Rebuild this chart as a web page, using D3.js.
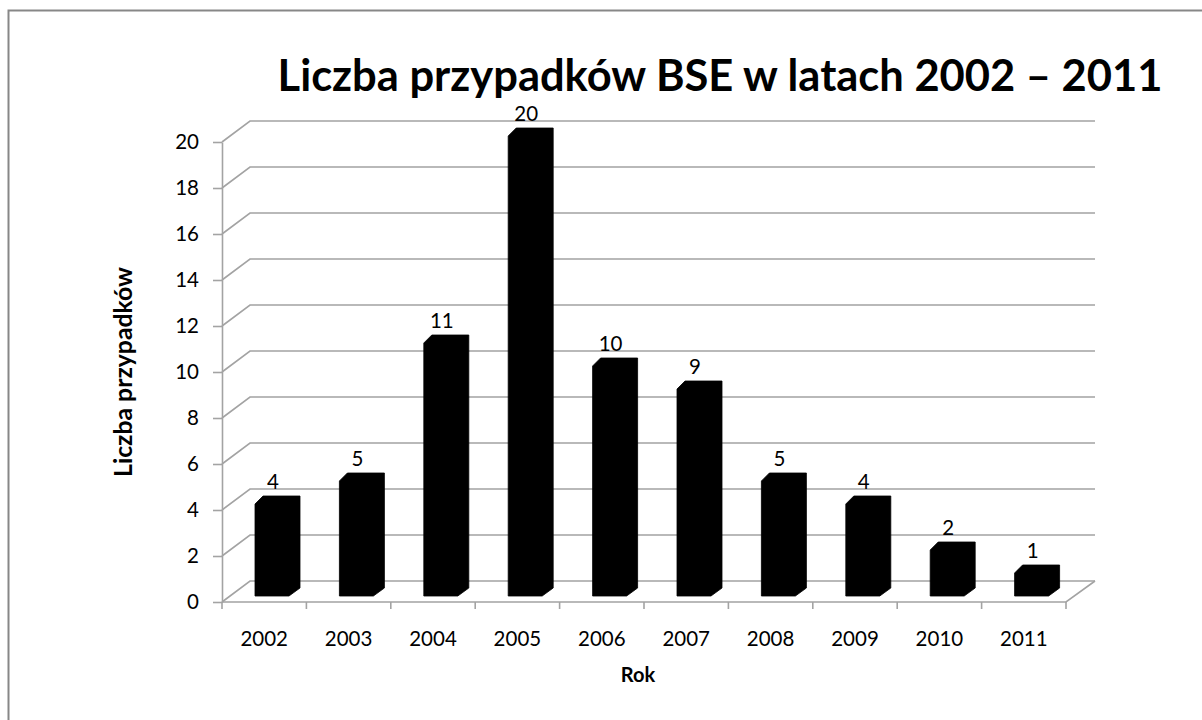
<!DOCTYPE html>
<html>
<head>
<meta charset="utf-8">
<script src="https://cdn.jsdelivr.net/npm/d3@7"></script>
<style>
  html, body { margin: 0; padding: 0; background: #fff; }
  svg { display: block; font-family: Lato, "Open Sans", sans-serif; }
</style>
</head>
<body>
<svg id="chart" width="1202" height="720"></svg>
<script>
const years = ["2002","2003","2004","2005","2006","2007","2008","2009","2010","2011"];
const cases = [4, 5, 11, 20, 10, 9, 5, 4, 2, 1];
const yTicks = [0, 2, 4, 6, 8, 10, 12, 14, 16, 18, 20];
const titleText = "Liczba przypadków BSE w latach 2002 – 2011";
const yTitle = "Liczba przypadków";
const xTitle = "Rok";

const svg = d3.select("#chart");
const gridColor = "#a3a3a3";
const labelSize = 20.5;

// chart border
svg.append("rect")
  .attr("x", 8.5).attr("y", 10.5).attr("width", 1220).attr("height", 730)
  .attr("fill", "none").attr("stroke", "#878787").attr("stroke-width", 2);

const x = d3.scaleBand().domain(years).range([222, 1066]).padding(0);
const y = d3.scaleLinear().domain([0, 20]).range([602, 142]);
const depthX = 28, depthY = 21;
const right = 1066;

// walls / gridlines (left side wall diagonals + back wall lines)
const grid = svg.append("g");
yTicks.forEach(t => {
  grid.append("path")
    .attr("d", `M222,${y(t)}L${222 + depthX},${y(t) - depthY}L${right + depthX + 1},${y(t) - depthY}`)
    .attr("fill", "none").attr("stroke", gridColor).attr("stroke-width", 1.6);
});
// floor front edge and right diagonal
grid.append("path")
  .attr("d", `M222,${y(0)}L${right},${y(0)}L${right + depthX + 1},${y(0) - depthY}`)
  .attr("fill", "none").attr("stroke", gridColor).attr("stroke-width", 1.6);

// y axis
const yAxis = d3.axisLeft(y).tickValues(yTicks).tickSize(9).tickSizeOuter(0).tickPadding(14);
const gy = svg.append("g").attr("transform", "translate(222,0)").call(yAxis);
gy.select(".domain").attr("stroke", gridColor).attr("stroke-width", 1.6);
gy.selectAll(".tick line").attr("stroke", gridColor).attr("stroke-width", 1.6);
gy.selectAll(".tick text").attr("font-size", labelSize).attr("fill", "#000")
  .attr("font-family", "Lato, 'Open Sans', sans-serif");

// x axis
const xAxis = d3.axisBottom(x).tickSize(0).tickPadding(29);
const gx = svg.append("g").attr("transform", `translate(0,${y(0)})`).call(xAxis);
gx.select(".domain").remove();
gx.selectAll(".tick text").attr("font-size", labelSize).attr("fill", "#000")
  .attr("font-family", "Lato, 'Open Sans', sans-serif");
const bounds = years.map(d => x(d)).concat([x.range()[1]]);
svg.append("g").selectAll("line").data(bounds).join("line")
  .attr("x1", d => d).attr("x2", d => d)
  .attr("y1", y(0)).attr("y2", y(0) + 7)
  .attr("stroke", gridColor).attr("stroke-width", 1.6);

// bars (3D prisms drawn as one black shape)
const bars = svg.append("g");
years.forEach((yr, i) => {
  const v = cases[i];
  const x0 = x(yr) + 33, x1 = x0 + 34;
  const yb = y(0) - 6, yt = y(v) - 6;
  const pts = [
    [x0, yb], [x0, yt], [x0 + 8, yt - 8], [x1 + 11, yt - 8], [x1 + 11, yb - 8], [x1, yb]
  ];
  bars.append("polygon")
    .attr("points", pts.map(p => p.join(",")).join(" "))
    .attr("fill", "#000").attr("stroke", "#000").attr("stroke-width", 0.8);
  bars.append("text")
    .attr("x", x0 + 18).attr("y", yt - 15)
    .attr("text-anchor", "middle").attr("font-size", labelSize).attr("fill", "#000")
    .text(v);
});

// title
const title = svg.append("text")
  .attr("x", 720).attr("y", 91).attr("text-anchor", "middle")
  .attr("font-size", 44).attr("font-weight", "bold").attr("fill", "#000")
  .text(titleText);
const tw = title.node().getComputedTextLength();
title.attr("font-size", 44 * 885 / tw);

// axis titles
const yt = svg.append("text")
  .attr("transform", "translate(132,372) rotate(-90)")
  .attr("text-anchor", "middle").attr("font-size", 20).attr("font-weight", "bold")
  .text(yTitle);
const ytw = yt.node().getComputedTextLength();
yt.attr("font-size", 20 * 210 / ytw);
svg.append("text")
  .attr("x", 638).attr("y", 682).attr("text-anchor", "middle")
  .attr("font-size", 20).attr("font-weight", "bold")
  .text(xTitle);
</script>
</body>
</html>
